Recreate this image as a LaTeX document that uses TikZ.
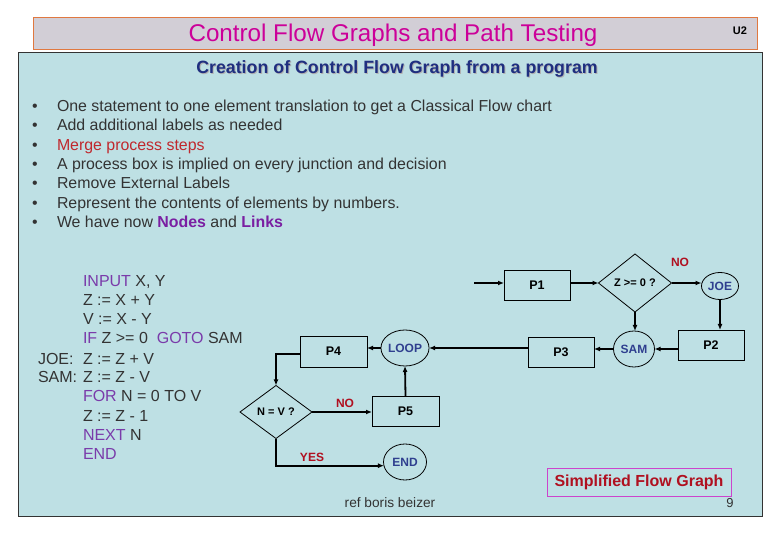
\documentclass[tikz,border=0pt]{standalone}
\usepackage{fontspec}
\setmainfont{Liberation Sans}
\usetikzlibrary{shapes.geometric,arrows.meta}
\definecolor{bgblue}{HTML}{BEE0E4}
\definecolor{titlefill}{HTML}{D2CED6}
\definecolor{titleedge}{HTML}{E07840}
\definecolor{titletext}{HTML}{CC0099}
\definecolor{navy}{HTML}{1F2F80}
\definecolor{txt}{HTML}{333333}
\definecolor{mergered}{HTML}{C0282D}
\definecolor{nodepurple}{HTML}{7A1FA2}
\definecolor{kw}{HTML}{7A3BAA}
\definecolor{circtext}{HTML}{2F3F8F}
\definecolor{lblred}{HTML}{B01020}
\definecolor{sfgedge}{HTML}{CC44CC}
\newcommand{\kwd}[1]{\textcolor{kw}{#1}}
\begin{document}
\begin{tikzpicture}[x=1pt,y=-1pt,
  every node/.style={inner sep=0pt,outer sep=0pt},
  pbox/.style={draw=black,line width=0.8pt,minimum width=66pt,minimum height=30pt,
    font=\fontsize{12.5}{14}\selectfont\bfseries},
  circ/.style={draw=black,line width=0.8pt,ellipse,text=circtext,
    font=\fontsize{12}{14}\selectfont\bfseries},
  dia/.style={draw=black,line width=0.8pt,diamond,font=\fontsize{11}{13}\selectfont\bfseries},
  arr/.style={line width=1.8pt,-{Latex[length=6pt,width=5pt]}},
  lbl/.style={text=lblred,font=\fontsize{12}{14}\selectfont\bfseries},
  bul/.style={anchor=base west,text=txt,font=\fontsize{15.9}{18}\selectfont},
  code/.style={anchor=base west,text=txt,font=\fontsize{16}{18}\selectfont}]
\useasboundingbox (0,0) rectangle (780,540);
\fill[white] (0,0) rectangle (780,540);
% title bar
\draw[fill=titlefill,draw=titleedge,line width=1pt] (33,18) rectangle (757,50);
\node[text=titletext,font=\fontsize{24.2}{28}\selectfont] (title) at (393,35) {Control Flow Graphs and Path Testing};
\node[font=\fontsize{11}{13}\selectfont\bfseries] (u2) at (740,31) {U2};
% main panel
\draw[fill=bgblue,draw=black!80,line width=1pt] (18,53) rectangle (762,516);
\node[text=black!30,font=\fontsize{17.8}{20}\selectfont\bfseries] (subshadow) at (398,70) {Creation of Control Flow Graph from a program};
\node[text=navy,font=\fontsize{17.8}{20}\selectfont\bfseries] (subtitle) at (397,69) {Creation of Control Flow Graph from a program};
% bullets
\foreach \yy/\nm in {112/b1,131/b2,151/b3,170/b4,189/b5,209/b6,228/b7}
  \node[bul] (dot\nm) at (32,\yy) {•};
\node[bul] (b1) at (57,112) {One statement to one element translation to get a Classical Flow chart};
\node[bul] (b2) at (57,131) {Add additional labels as needed};
\node[bul,text=mergered] (b3) at (57,151) {Merge process steps};
\node[bul] (b4) at (57,170) {A process box is implied on every junction and decision};
\node[bul] (b5) at (57,189) {Remove External Labels};
\node[bul] (b6) at (57,209) {Represent the contents of elements by numbers.};
\node[bul] (b7) at (57,228) {We have now \textcolor{nodepurple}{\textbf{Nodes}} and \textcolor{nodepurple}{\textbf{Links}}};
% code
\node[code] (c1) at (83,287) {\kwd{INPUT} X, Y};
\node[code] (c2) at (83,306) {Z := X + Y};
\node[code] (c3) at (83,325) {V := X - Y};
\node[code] (c4) at (83,344) {\kwd{IF} Z >= 0 \ \kwd{GOTO} SAM};
\node[code] (lj) at (38,364) {JOE:};
\node[code] (c5) at (83,364) {Z := Z + V};
\node[code] (ls) at (38,383) {SAM:};
\node[code] (c6) at (83,383) {Z := Z - V};
\node[code] (c7) at (83,402) {\kwd{FOR} N = 0 TO V};
\node[code] (c8) at (83,421) {Z := Z - 1};
\node[code] (c9) at (83,440) {\kwd{NEXT} N};
\node[code] (c10) at (83,459) {\kwd{END}};
% flow graph nodes
\coordinate (start) at (474,283);
\node[pbox] (p1) at (537,285) {P1};
\node[dia,minimum width=73pt,minimum height=58pt] (dz) at (635,283) {Z >= 0 ?};
\node[circ,minimum width=37pt,minimum height=27pt] (joe) at (720,286) {JOE};
\node[pbox] (p2) at (711,345) {P2};
\node[circ,minimum width=41pt,minimum height=36pt] (sam) at (634,349) {SAM};
\node[pbox] (p3) at (561,352) {P3};
\node[circ,minimum width=42pt,minimum height=36pt] (loop) at (405,348) {LOOP};
\node[pbox,minimum width=67pt,minimum height=31pt] (p4) at (333.5,351.5) {P4};
\node[dia,minimum width=72pt,minimum height=53pt] (dn) at (276,412) {N = V ?};
\node[pbox,minimum width=67pt] (p5) at (405.5,411) {P5};
\node[circ,minimum width=43pt,minimum height=36pt] (end) at (405,462) {END};
% connectors
\draw[arr] (start) -- (start -| p1.west);
\draw[arr] (p1.east |- dz.west) -- (dz.west);
\draw[arr] (dz.east) -- (dz.east -| joe.west);
\draw[arr] (joe.south) -- (joe.south |- p2.north);
\draw[arr] (p2.west |- sam.east) -- (sam.east);
\draw[arr] (dz.south) -- (dz.south |- sam.north);
\draw[arr] (sam.west) -- (sam.west -| p3.east);
\draw[arr] (p3.west |- loop.east) -- (loop.east);
\draw[arr] (loop.west) -- (loop.west -| p4.east);
\draw[arr] (p4.west |- 0,354) -| (dn.north);
\draw[arr] (dn.east) -- (dn.east -| p5.west);
\draw[arr] (p5.north) -- (loop.south);
\draw[arr] (dn.south) |- (end.190);
% labels
\node[lbl] (no1) at (680,262) {NO};
\node[lbl] (no2) at (345,403) {NO};
\node[lbl] (yes) at (312,457) {YES};
\node[text=txt,font=\fontsize{13.7}{15}\selectfont] (ref) at (390,503) {ref boris beizer};
\node[draw=sfgedge,line width=1pt,minimum width=184pt,minimum height=28pt,text=lblred,
  font=\fontsize{16}{18}\selectfont\bfseries] (sfg) at (639,482) {Simplified Flow Graph};
\node[text=txt,font=\fontsize{13}{15}\selectfont] (pg) at (730,503) {9};
\end{tikzpicture}
\end{document}
